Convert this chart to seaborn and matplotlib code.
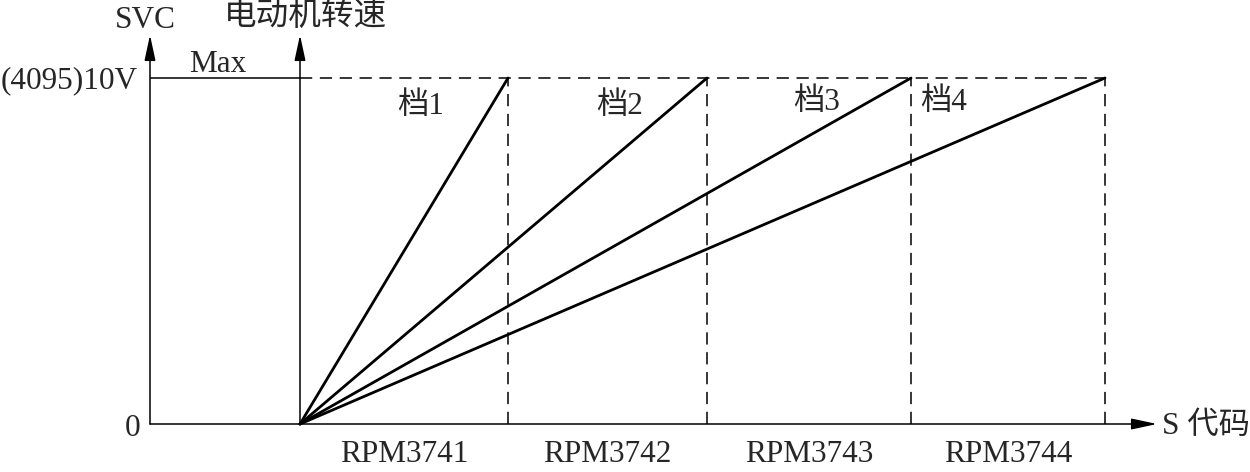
import numpy as np
import pandas as pd
import seaborn as sns
import matplotlib.pyplot as plt

# data
gears = ['档1', '档2', '档3', '档4']
gear_max_code = [208, 407, 611, 805]     # S code where each gear reaches max speed
rpm_params = ['RPM3741', 'RPM3742', 'RPM3743', 'RPM3744']
svc_max = 4095
svc_labels = ['0', '(4095)10V']

sns.set_theme(style='white')
plt.rcParams['font.family'] = ['Liberation Serif', 'Noto Sans CJK SC', 'DejaVu Sans']

fig = plt.figure(figsize=(12.5, 4.72), dpi=100)
ax = fig.add_axes([0, 0, 1, 1])
ppy = svc_max / 346
ax.set_xlim(-300, 950)
ax.set_ylim(-48 * ppy, 424 * ppy)
ax.axis('off')


def px(x, y):
    # pixel position in the picture -> data coords
    return x - 300, (424 - y) * ppy


rows = []
for g, c in zip(gears, gear_max_code):
    rows.append({'gear': g, 'code': 0, 'svc': 0})
    rows.append({'gear': g, 'code': c, 'svc': svc_max})
df = pd.DataFrame(rows)
sns.lineplot(data=df, x='code', y='svc', hue='gear', palette=['black'] * 4,
             lw=2.0, legend=False, ax=ax)

dash = (0, (8, 5))
ax.vlines(gear_max_code, 0, svc_max, colors='black', lw=1.1, linestyles=dash)
ax.hlines(svc_max, 0, max(gear_max_code), colors='black', lw=1.1, linestyles=dash)

left_x = px(150, 0)[0]
top_y = px(0, 35)[1]
ax.hlines(svc_max, left_x, 0, colors='black', lw=1.1)

arrow = dict(arrowstyle='-|>,head_length=1.3,head_width=0.28', lw=1.1,
             color='black', shrinkA=0, shrinkB=0)
ax.annotate('', xy=(left_x, top_y), xytext=(left_x, 0), arrowprops=arrow)
ax.annotate('', xy=(0, top_y), xytext=(0, 0), arrowprops=arrow)
ax.annotate('', xy=(px(1157, 0)[0], 0), xytext=(left_x, 0), arrowprops=arrow)

fs = 22.5
ax.text(*px(145, 20), 'SVC', fontsize=fs, ha='center', va='center')
ax.text(*px(305, 17), '电动机转速', fontsize=23.5, ha='center', va='center')
ax.text(*px(138, 81), svc_labels[1], fontsize=fs, ha='right', va='center')
ax.text(*px(140, 428), svc_labels[0], fontsize=fs, ha='right', va='center')
ax.text(*px(218, 64), 'Max', fontsize=fs, ha='center', va='center')
ax.text(*px(1162, 426), 'S 代码', fontsize=fs, ha='left', va='center')

gear_label_pos = [(421, 107), (620, 107), (817, 103), (944, 103)]
for g, (gx, gy) in zip(gears, gear_label_pos):
    ax.text(*px(gx, gy), g, fontsize=fs, ha='center', va='center')

edges = [0] + gear_max_code
for i, name in enumerate(rpm_params):
    mid = (edges[i] + edges[i + 1]) / 2
    ax.text(mid, px(0, 469)[1], name, fontsize=fs, ha='center', va='bottom')

fig.savefig('out.png', dpi=100)
